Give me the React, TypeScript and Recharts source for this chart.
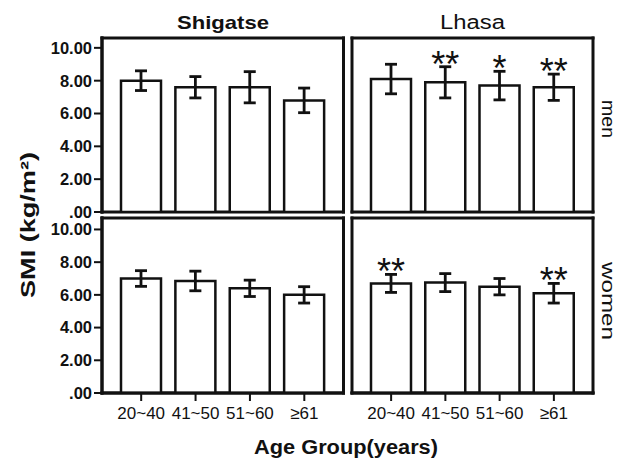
import { BarChart, Bar, XAxis, YAxis, ErrorBar, LabelList, CartesianGrid } from 'recharts';

const ageGroups = ['20~40', '41~50', '51~60', '≥61'];
const yTicks = [0, 2, 4, 6, 8, 10];

const shigatseMen = [8.0, 7.6, 7.6, 6.8];
const shigatseMenErr = [0.6, 0.65, 0.95, 0.75];
const lhasaMen = [8.1, 7.9, 7.7, 7.6];
const lhasaMenErr = [0.9, 0.95, 0.87, 0.8];
const lhasaMenSig = ['', '**', '*', '**'];

const shigatseWomen = [7.0, 6.85, 6.4, 6.0];
const shigatseWomenErr = [0.48, 0.6, 0.5, 0.5];
const lhasaWomen = [6.7, 6.75, 6.5, 6.1];
const lhasaWomenErr = [0.55, 0.55, 0.5, 0.6];
const lhasaWomenSig = ['**', '', '', '**'];

const FONT = '"Liberation Sans", Arial, sans-serif';
const INK = '#111';
const frameLine = { stroke: INK, strokeWidth: 3, strokeLinecap: 'square' as const };

interface PanelProps {
  values: number[];
  errs: number[];
  sigs?: string[];
  top: number;
  left: number;
  right: number;
  bottom: number;
  yMax: number;
  showY: boolean;
  showX: boolean;
}

function Panel({ values, errs, sigs, top, left, right, bottom, yMax, showY, showX }: PanelProps) {
  const data = ageGroups.map((g, i) => ({
    group: g,
    smi: values[i],
    err: errs[i],
    sig: sigs ? sigs[i] : '',
  }));

  const renderSig = (props: any) => {
    const vb = props.viewBox ?? props;
    const { x, y, width, height } = vb;
    const d = data[props.index];
    if (!d || !d.sig) return null;
    const pxPerUnit = height / d.smi;
    const errTop = y - d.err * pxPerUnit;
    return (
      <text x={x + width / 2} y={errTop + 10} textAnchor="middle" fontSize={36} fontFamily={FONT} fill={INK}>
        {d.sig}
      </text>
    );
  };

  return (
    <div style={{ position: 'absolute', left: 0, top: 0 }}>
      <BarChart width={619} height={460} data={data} margin={{ top, left, right, bottom }}>
        {/* panel frame */}
        <CartesianGrid
          stroke={INK}
          strokeWidth={3}
          strokeLinecap="square"
          horizontalCoordinatesGenerator={({ offset }: any) => [offset.top, offset.top + offset.height]}
          verticalCoordinatesGenerator={({ offset }: any) => [offset.left, offset.left + offset.width]}
        />
        <XAxis
          dataKey="group"
          padding={{ left: 12, right: 12 }}
          interval={0}
          height={showX ? 30 : 0}
          axisLine={frameLine}
          tickLine={showX ? { stroke: INK, strokeWidth: 2 } : false}
          tick={showX ? { fill: INK, fontSize: 17, fontFamily: FONT } : false}
          tickSize={8}
          tickMargin={6}
        />
        <YAxis
          type="number"
          domain={[0, yMax]}
          ticks={yTicks}
          allowDataOverflow
          width={showY ? 60 : 0}
          axisLine={frameLine}
          tickLine={showY ? { stroke: INK, strokeWidth: 2 } : false}
          tick={showY ? { fill: INK, fontSize: 16.5, fontWeight: 'bold', fontFamily: FONT } : false}
          tickSize={8}
          tickMargin={2}
          tickFormatter={(v: number) => (v === 0 ? '.00' : v.toFixed(2))}
        />
        <Bar dataKey="smi" fill="#fff" stroke={INK} strokeWidth={2.5} barSize={40} isAnimationActive={false}>
          <ErrorBar dataKey="err" width={6} stroke={INK} strokeWidth={2.8} isAnimationActive={false} />
          {sigs && <LabelList dataKey="sig" content={renderSig} />}
        </Bar>
      </BarChart>
    </div>
  );
}

export default function App() {
  return (
    <div style={{ position: 'absolute', left: 0, top: 0, width: 619, height: 460, background: '#fff', overflow: 'hidden' }}>
      <Panel values={shigatseMen} errs={shigatseMenErr} top={38} left={42} right={275.5} bottom={248} yMax={10.6} showY showX={false} />
      <Panel values={lhasaMen} errs={lhasaMenErr} sigs={lhasaMenSig} top={38} left={352} right={26} bottom={248} yMax={10.6} showY={false} showX={false} />
      <Panel values={shigatseWomen} errs={shigatseWomenErr} top={218} left={42} right={275.5} bottom={37} yMax={10.7} showY showX />
      <Panel values={lhasaWomen} errs={lhasaWomenErr} sigs={lhasaWomenSig} top={218} left={352} right={26} bottom={37} yMax={10.7} showY={false} showX />
      <svg width={619} height={460} style={{ position: 'absolute', left: 0, top: 0, pointerEvents: 'none' }} fontFamily={FONT} fill={INK}>
        <text x={223} y={28.5} textAnchor="middle" fontSize={19} fontWeight="bold" textLength={92} lengthAdjust="spacingAndGlyphs">Shigatse</text>
        <text x={472.5} y={28.5} textAnchor="middle" fontSize={20} textLength={65} lengthAdjust="spacingAndGlyphs">Lhasa</text>
        <text transform="translate(35,225) rotate(-90)" textAnchor="middle" fontSize={20} fontWeight="bold" textLength={146} lengthAdjust="spacingAndGlyphs">SMI (kg/m²)</text>
        <text x={346} y={454} textAnchor="middle" fontSize={20} fontWeight="bold" textLength={184} lengthAdjust="spacingAndGlyphs">Age Group(years)</text>
        <text transform="translate(602,119) rotate(90)" textAnchor="middle" fontSize={18} textLength={38} lengthAdjust="spacingAndGlyphs">men</text>
        <text transform="translate(602,301) rotate(90)" textAnchor="middle" fontSize={18} textLength={78} lengthAdjust="spacingAndGlyphs">women</text>
      </svg>
    </div>
  );
}
